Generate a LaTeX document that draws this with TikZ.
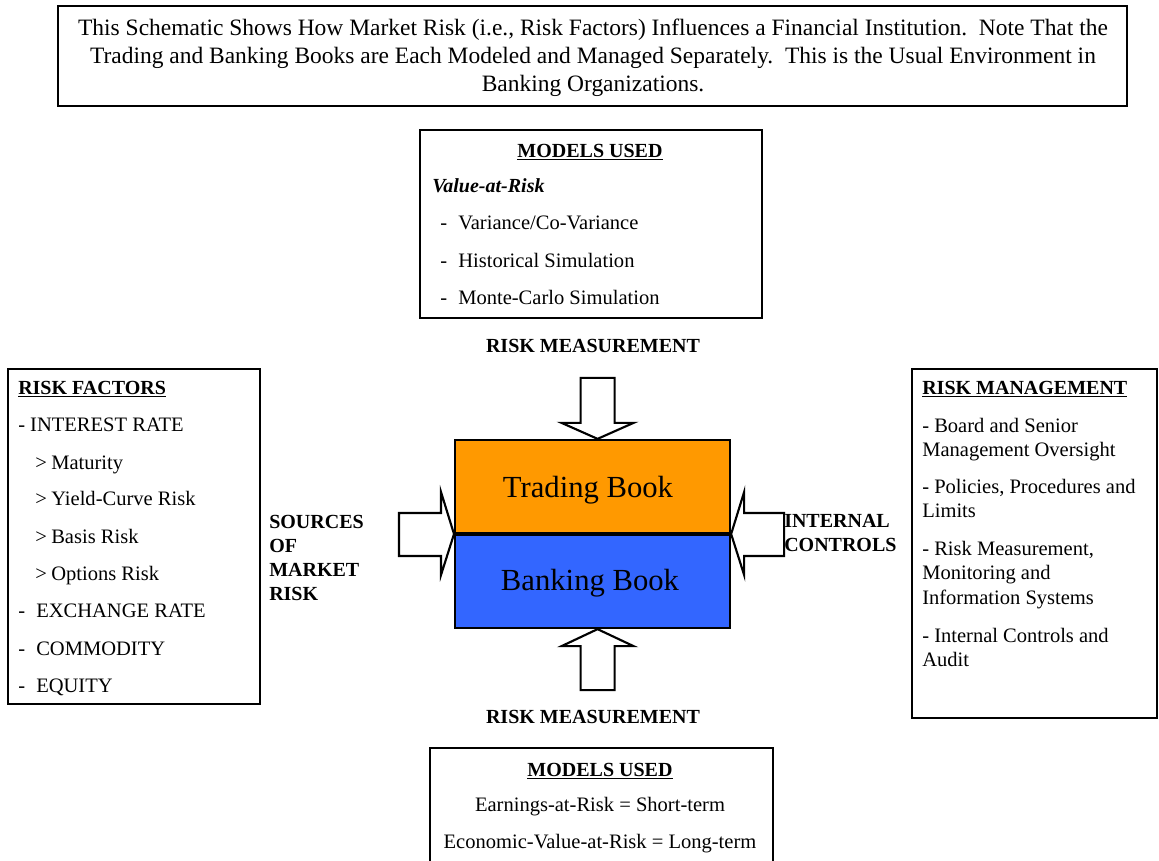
\documentclass[tikz,border=0pt]{standalone}
\usepackage{fontspec}
\setmainfont{Liberation Serif}
\definecolor{tradeorange}{HTML}{FF9900}
\definecolor{bankblue}{HTML}{3366FF}
\newcommand\bodysize{\fontsize{15.4}{18}\selectfont}
\newcommand\labelsize{\fontsize{15}{18}\selectfont}
\newcommand\notesize{\fontsize{17.6}{20}\selectfont}
\newcommand\booksize{\fontsize{23}{26}\selectfont}
\tikzset{
  frame/.style={draw, line width=1.6pt, inner sep=0},
  book/.style={draw, line width=1.6pt, inner sep=0, minimum width=275*0.75pt, minimum height=93*0.75pt},
  txt/.style={inner sep=0, anchor=base west, font=\bodysize},
  ctxt/.style={inner sep=0, anchor=base, font=\bodysize},
  lbl/.style={inner sep=0, anchor=base west, font=\labelsize\bfseries},
  blockarrow/.style={draw, line width=1.6pt, fill=white, line join=miter},
}
\begin{document}
\begin{tikzpicture}[x=0.75pt, y=-0.75pt]
\useasboundingbox (0,0) rectangle (1159,860);

% introductory note
\node[frame, minimum width=1069*0.75pt, minimum height=100*0.75pt] (intro) at (592.5,56) {};
\node[ctxt, font=\notesize] (intro1) at (593,36) {This Schematic Shows How Market Risk (i.e., Risk Factors) Influences a Financial Institution.\ \ Note That the};
\node[ctxt, font=\notesize] (intro2) at (593,63) {Trading and Banking Books are Each Modeled and Managed Separately.\ \ This is the Usual Environment in};
\node[ctxt, font=\notesize] (intro3) at (593,91) {Banking Organizations.};

% models used for the trading book
\node[frame, minimum width=342*0.75pt, minimum height=188*0.75pt] (vbox) at (591,224) {};
\node[ctxt, font=\labelsize\bfseries] (vtitle) at (590,157) {\underline{MODELS USED}};
\node[txt, font=\labelsize\bfseries\itshape] (var) at (432,192) {Value-at-Risk};
\node[txt] (vd1) at (440,229) {-};
\node[txt] (v1) at (458,229) {Variance/Co-Variance};
\node[txt] (vd2) at (440,267) {-};
\node[txt] (v2) at (458,267) {Historical Simulation};
\node[txt] (vd3) at (440,304) {-};
\node[txt] (v3) at (458,304) {Monte-Carlo Simulation};
\node[ctxt, font=\labelsize\bfseries] (rmtop) at (593,352) {RISK MEASUREMENT};

% the two books
\node[book, fill=tradeorange, anchor=south west] (trading) at (454,534) {};
\node[book, fill=bankblue, anchor=north west] (banking) at (454,534) {};
\node[inner sep=0, anchor=base, font=\booksize] (tlabel) at (588,497) {Trading Book};
\node[inner sep=0, anchor=base, font=\booksize] (blabel) at (590,590) {Banking Book};

% block arrows pointing at the books (vertical ones sit a little right of centre)
\draw[blockarrow, shift={(trading.north)}]
  (5,0) -- (-31,-16) -- (-12,-16) -- (-12,-61) -- (22,-61) -- (22,-16) -- (41,-16) -- cycle;
\draw[blockarrow, shift={(banking.south)}]
  (5,0) -- (-31,17) -- (-12,17) -- (-12,61) -- (22,61) -- (22,17) -- (41,17) -- cycle;
\draw[blockarrow, shift={(trading.south west)}]
  (0,0) -- (-13,-42) -- (-13,-21) -- (-55,-21) -- (-55,22) -- (-13,22) -- (-13,41) -- cycle;
\draw[blockarrow, shift={(trading.south east)}]
  (0,0) -- (13,-42) -- (13,-21) -- (53,-21) -- (53,22) -- (13,22) -- (13,41) -- cycle;

% risk factors
\node[frame, minimum width=252*0.75pt, minimum height=335*0.75pt] (factors) at (134,536.5) {};
\node[lbl] (ftitle) at (18,394) {\underline{RISK FACTORS}};
\node[txt] (f1) at (18,431) {- INTEREST RATE};
\node[txt] (fg1) at (35,469) {>};
\node[txt] (f2) at (51,469) {Maturity};
\node[txt] (fg2) at (35,505) {>};
\node[txt] (f3) at (51,505) {Yield-Curve Risk};
\node[txt] (fg3) at (35,543) {>};
\node[txt] (f4) at (51,543) {Basis Risk};
\node[txt] (fg4) at (35,580) {>};
\node[txt] (f5) at (51,580) {Options Risk};
\node[txt] (fd6) at (18,617) {-};
\node[txt] (f6) at (36,617) {EXCHANGE RATE};
\node[txt] (fd7) at (18,655) {-};
\node[txt] (f7) at (36,655) {COMMODITY};
\node[txt] (fd8) at (18,692) {-};
\node[txt] (f8) at (36,692) {EQUITY};

% sources and controls labels
\node[lbl] (src1) at (269,528) {SOURCES};
\node[lbl] (src2) at (269,552) {OF};
\node[lbl] (src3) at (269,576) {MARKET};
\node[lbl] (src4) at (269,600) {RISK};
\node[lbl] (ic1) at (784,527) {INTERNAL};
\node[lbl] (ic2) at (784,551) {CONTROLS};

% risk management
\node[frame, minimum width=245*0.75pt, minimum height=349*0.75pt] (manage) at (1034.5,543.5) {};
\node[lbl] (mtitle) at (922,394) {\underline{RISK MANAGEMENT}};
\node[txt] (m1) at (922,432) {- Board and Senior};
\node[txt] (m1b) at (922,456) {Management Oversight};
\node[txt] (m2) at (922,493) {- Policies, Procedures and};
\node[txt] (m2b) at (922,517) {Limits};
\node[txt] (m3) at (922,555) {- Risk Measurement,};
\node[txt] (m3b) at (922,579) {Monitoring and};
\node[txt] (m3c) at (922,604) {Information Systems};
\node[txt] (m4) at (922,642) {- Internal Controls and};
\node[txt] (m4b) at (922,666) {Audit};

% models used for the banking book
\node[ctxt, font=\labelsize\bfseries] (rmbot) at (593,723) {RISK MEASUREMENT};
\draw[line width=1.6pt] (430,864) -- (430,748) -- (773,748) -- (773,864);
\node[ctxt, font=\labelsize\bfseries] (etitle) at (600,776) {\underline{MODELS USED}};
\node[ctxt] (e1) at (600,811) {Earnings-at-Risk = Short-term};
\node[ctxt] (e2) at (600,848) {Economic-Value-at-Risk = Long-term};
\end{tikzpicture}
\end{document}
